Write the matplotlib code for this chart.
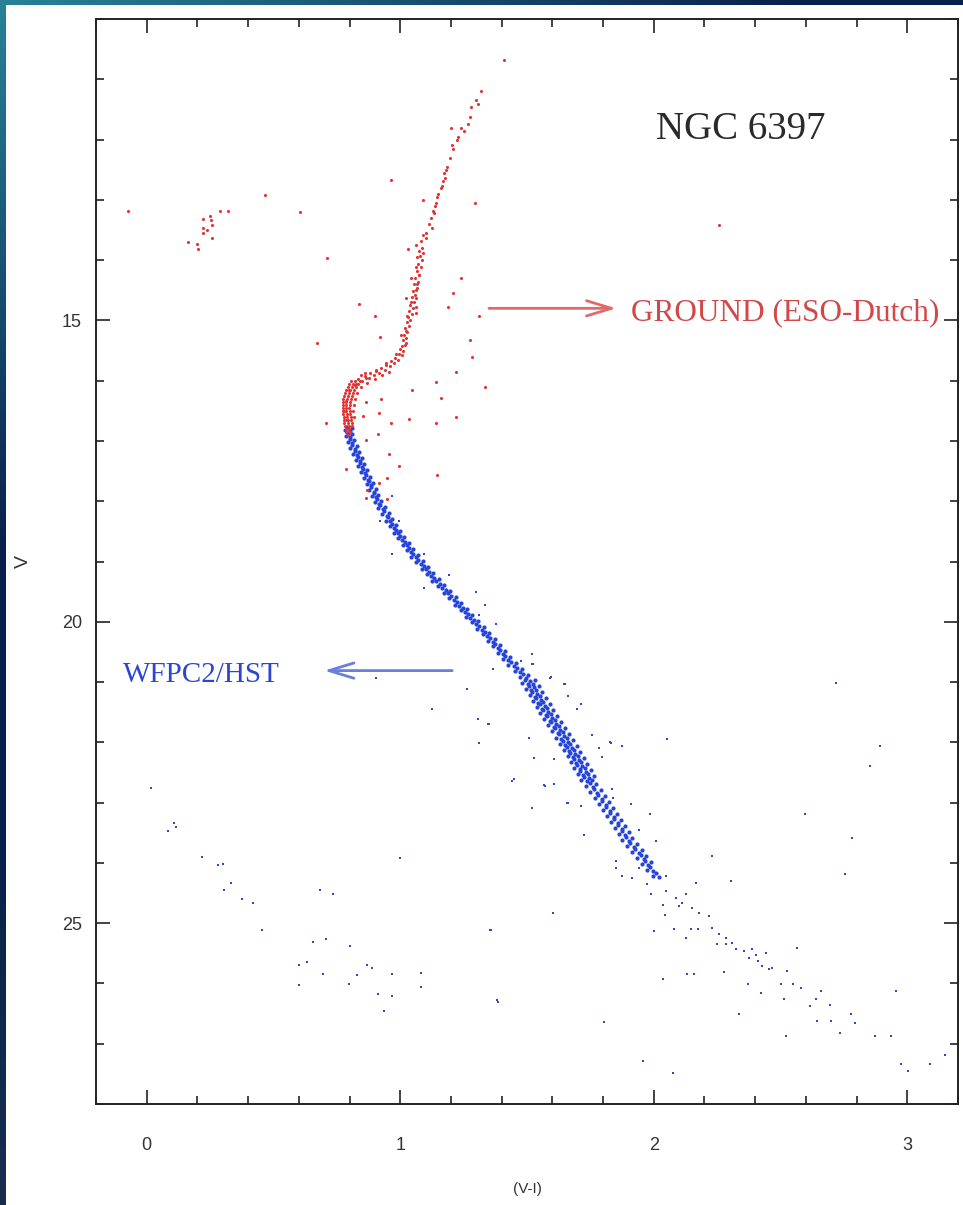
import numpy as np
import matplotlib
matplotlib.use("Agg")
import matplotlib.pyplot as plt
from matplotlib.ticker import MultipleLocator, FixedLocator
from matplotlib.patches import Rectangle

# ---------------- data (V-I, V) ----------------
# HST main sequence band
hst_band = [
 (0.783,16.82),(0.791,16.77),(0.800,16.84),(0.808,16.79),
 (0.786,16.91),(0.795,16.87),(0.803,16.94),(0.811,16.89),
 (0.793,17.02),(0.801,16.97),(0.810,17.04),(0.818,16.99),
 (0.803,17.12),(0.811,17.07),(0.820,17.13),(0.828,17.09),
 (0.814,17.21),(0.822,17.17),(0.831,17.24),(0.839,17.19),
 (0.824,17.32),(0.832,17.27),(0.841,17.33),(0.849,17.29),
 (0.834,17.41),(0.842,17.37),(0.851,17.44),(0.859,17.39),
 (0.845,17.52),(0.853,17.47),(0.862,17.53),(0.870,17.49),
 (0.856,17.61),(0.864,17.57),(0.873,17.64),(0.881,17.59),
 (0.867,17.72),(0.875,17.67),(0.884,17.73),(0.892,17.69),
 (0.878,17.81),(0.886,17.77),(0.895,17.84),(0.903,17.79),
 (0.889,17.92),(0.897,17.87),(0.906,17.93),(0.914,17.89),
 (0.900,18.01),(0.908,17.97),(0.917,18.04),(0.925,17.99),
 (0.914,18.12),(0.922,18.07),(0.931,18.13),(0.939,18.09),
 (0.929,18.21),(0.937,18.17),(0.946,18.24),(0.954,18.19),
 (0.944,18.32),(0.952,18.27),(0.961,18.33),(0.969,18.29),
 (0.959,18.41),(0.967,18.37),(0.976,18.44),(0.984,18.39),
 (0.974,18.52),(0.982,18.47),(0.991,18.53),(0.999,18.49),
 (0.991,18.61),(0.999,18.57),(1.008,18.64),(1.016,18.59),
 (1.009,18.72),(1.017,18.67),(1.026,18.73),(1.034,18.69),
 (1.026,18.81),(1.034,18.77),(1.043,18.84),(1.051,18.79),
 (1.044,18.92),(1.052,18.87),(1.061,18.93),(1.069,18.89),
 (1.063,19.01),(1.071,18.97),(1.080,19.04),(1.088,18.99),
 (1.084,19.12),(1.092,19.07),(1.101,19.13),(1.109,19.09),
 (1.105,19.21),(1.113,19.17),(1.122,19.24),(1.130,19.19),
 (1.126,19.32),(1.134,19.27),(1.143,19.33),(1.151,19.29),
 (1.148,19.41),(1.156,19.37),(1.165,19.44),(1.173,19.39),
 (1.171,19.52),(1.179,19.47),(1.188,19.53),(1.196,19.49),
 (1.194,19.61),(1.202,19.57),(1.211,19.64),(1.219,19.59),
 (1.216,19.72),(1.224,19.67),(1.233,19.73),(1.241,19.69),
 (1.239,19.81),(1.247,19.77),(1.256,19.84),(1.264,19.79),
 (1.260,19.92),(1.268,19.87),(1.277,19.93),(1.285,19.89),
 (1.282,20.01),(1.290,19.97),(1.299,20.04),(1.307,19.99),
 (1.304,20.12),(1.312,20.07),(1.321,20.13),(1.329,20.09),
 (1.327,20.21),(1.335,20.17),(1.344,20.24),(1.352,20.19),
 (1.347,20.32),(1.355,20.27),(1.364,20.33),(1.372,20.29),
 (1.367,20.41),(1.375,20.37),(1.384,20.44),(1.392,20.39),
 (1.385,20.52),(1.395,20.47),(1.405,20.53),(1.414,20.49),
 (1.405,20.61),(1.415,20.57),(1.425,20.64),(1.434,20.59),
 (1.427,20.72),(1.437,20.67),(1.447,20.73),(1.456,20.69),
 (1.451,20.81),(1.461,20.77),(1.471,20.84),(1.480,20.79),
 (1.473,20.92),(1.484,20.87),(1.495,20.93),(1.505,20.89),
 (1.481,21.02),(1.492,20.97),(1.502,21.04),(1.512,20.99),(1.522,21.03),(1.532,20.96),
 (1.495,21.12),(1.506,21.07),(1.516,21.14),(1.526,21.09),(1.536,21.13),(1.546,21.06),
 (1.510,21.22),(1.521,21.17),(1.531,21.24),(1.541,21.19),(1.551,21.23),(1.561,21.16),
 (1.524,21.32),(1.535,21.27),(1.545,21.34),(1.555,21.29),(1.565,21.33),(1.575,21.26),
 (1.539,21.42),(1.550,21.37),(1.560,21.44),(1.570,21.39),(1.580,21.43),(1.590,21.36),
 (1.553,21.52),(1.564,21.47),(1.574,21.54),(1.584,21.49),(1.594,21.53),(1.604,21.46),
 (1.569,21.62),(1.580,21.57),(1.590,21.64),(1.600,21.59),(1.610,21.63),(1.620,21.56),
 (1.584,21.72),(1.595,21.67),(1.605,21.74),(1.615,21.69),(1.625,21.73),(1.635,21.66),
 (1.600,21.82),(1.611,21.77),(1.621,21.84),(1.631,21.79),(1.641,21.83),(1.651,21.76),
 (1.615,21.92),(1.626,21.87),(1.636,21.94),(1.646,21.89),(1.656,21.93),(1.666,21.86),
 (1.630,22.02),(1.641,21.97),(1.651,22.04),(1.661,21.99),(1.671,22.03),(1.681,21.96),
 (1.646,22.12),(1.657,22.07),(1.667,22.14),(1.677,22.09),(1.687,22.13),(1.697,22.06),
 (1.660,22.22),(1.671,22.17),(1.681,22.24),(1.691,22.19),(1.701,22.23),(1.711,22.16),
 (1.673,22.32),(1.684,22.27),(1.694,22.34),(1.704,22.29),(1.714,22.33),(1.724,22.26),
 (1.687,22.42),(1.698,22.37),(1.708,22.44),(1.718,22.39),(1.728,22.43),(1.738,22.36),
 (1.700,22.52),(1.711,22.47),(1.721,22.54),(1.731,22.49),(1.741,22.53),(1.751,22.46),
 (1.714,22.62),(1.725,22.57),(1.735,22.64),(1.745,22.59),(1.755,22.63),(1.765,22.56),
 (1.734,22.72),(1.747,22.67),(1.761,22.74),(1.774,22.69),
 (1.750,22.82),(1.763,22.77),(1.777,22.84),(1.790,22.79),
 (1.767,22.92),(1.780,22.87),(1.794,22.94),(1.807,22.89),
 (1.784,23.02),(1.797,22.97),(1.811,23.04),(1.824,22.99),
 (1.800,23.12),(1.813,23.07),(1.827,23.14),(1.840,23.09),
 (1.816,23.22),(1.829,23.17),(1.843,23.24),(1.856,23.19),
 (1.831,23.32),(1.844,23.27),(1.858,23.34),(1.871,23.29),
 (1.846,23.42),(1.859,23.37),(1.873,23.44),(1.886,23.39),
 (1.861,23.52),(1.874,23.47),(1.888,23.54),(1.901,23.49),
 (1.876,23.62),(1.889,23.57),(1.903,23.64),(1.916,23.59),
 (1.894,23.72),(1.907,23.67),(1.921,23.74),(1.934,23.69),
 (1.913,23.82),(1.926,23.77),(1.940,23.84),(1.953,23.79),
 (1.935,23.92),(1.948,23.87),(1.960,23.94),(1.970,23.89),
 (1.954,24.02),(1.967,23.97),(1.979,24.04),(1.989,23.99),
 (1.975,24.12),(1.987,24.07),(1.998,24.14),
 (1.996,24.21),(2.008,24.17),(2.020,24.24),
]
hst_band_vi = [p[0] for p in hst_band]
hst_band_v = [p[1] for p in hst_band]

# HST sparse stars (faint tail, field stars, outliers)
hst_field = [
 (2.047,24.47),(2.087,24.58),(2.110,24.67),(2.126,24.52),(2.150,24.75),(2.177,24.83),
 (2.098,24.72),(2.228,25.08),(2.217,24.88),(2.256,25.18),(2.283,25.35),(2.307,25.33),
 (2.323,25.43),(2.354,25.47),(2.386,25.43),(2.374,25.58),(2.413,25.63),(2.425,25.71),
 (2.465,25.75),(2.402,25.52),(2.283,25.25),(2.248,25.35),
 (1.850,23.97),(1.850,24.09),(1.874,24.22),(1.913,24.25),(1.972,24.35),(1.941,24.09),
 (1.969,23.97),(2.047,24.22),(1.988,24.52),(2.079,25.10),(2.146,25.10),(2.173,25.10),
 (2.228,23.89),(2.303,24.30),(2.165,24.34),(2.035,24.70),(2.043,24.87),(1.602,24.83),
 (1.358,25.12),(2.000,25.13),(2.126,25.25),(2.130,25.85),(2.157,25.85),(2.035,25.93),
 (2.276,25.81),(2.335,26.50),(2.370,26.01),(2.421,26.16),(2.441,25.50),(2.453,25.76),
 (2.500,26.01),(2.512,26.25),(2.524,25.80),(2.551,26.01),(2.563,25.42),(2.579,26.08),
 (2.618,26.38),(2.638,26.25),(2.642,26.63),(2.661,26.13),(2.697,26.35),(2.701,26.63),
 (2.736,26.83),(2.776,26.51),(2.795,26.66),(2.520,26.88),(2.874,26.88),(2.937,26.88),
 (2.957,26.13),(2.976,27.33),(3.004,27.46),(3.091,27.33),(3.150,27.18),
 (2.717,21.01),(2.894,22.06),(2.854,22.39),(2.598,23.19),(2.780,23.59),(2.756,24.19),
 (2.051,21.94),(1.382,26.28),(1.803,26.64),(1.957,27.28),(2.075,27.48),
 (1.378,20.03),(1.366,20.78),(1.520,20.53),(1.520,20.70),(1.591,20.93),(1.650,21.03),
 (1.508,21.93),(1.528,22.26),(1.441,22.64),(1.567,22.71),(1.606,22.69),(1.520,23.09),
 (1.657,23.01),(1.724,23.54),(1.350,21.69),(1.311,22.01),(1.874,22.06),(1.831,22.01),
 (1.795,22.24),(1.909,23.02),(1.984,23.19),(1.941,23.46),(2.008,23.64),
 (0.969,17.91),(0.996,18.32),(0.921,18.32),(0.969,18.87),(1.094,18.87),(1.094,19.44),
 (1.193,19.22),(1.299,19.50),(1.335,19.72),(1.311,19.88),(1.524,20.70),(1.476,20.65),
 (0.906,20.93),(1.126,21.45),(1.449,22.61),(1.264,21.11),(1.307,21.61),
 (1.594,20.91),(1.646,21.03),(1.661,21.23),(1.713,21.36),(1.697,21.45),(1.756,21.88),
 (1.783,22.09),(1.827,21.99),(1.606,22.28),(1.571,22.72),(1.661,23.01),(1.713,23.06),
 (1.835,22.77),(1.839,22.92),
 (0.016,22.76),(0.083,23.47),(0.106,23.34),(0.114,23.41),(0.217,23.90),(0.280,24.04),
 (0.299,24.02),(0.331,24.34),(0.303,24.45),(0.374,24.60),(0.421,24.67),(0.453,25.12),
 (0.657,25.32),(0.634,25.65),(0.602,25.70),(0.602,26.03),(0.685,24.45),(0.736,24.52),
 (0.709,25.27),(0.697,25.85),(0.803,25.38),(0.799,26.01),(0.831,25.86),(0.870,25.70),
 (0.890,25.75),(0.913,26.18),(0.937,26.46),(0.969,25.85),(0.969,26.21),(1.083,25.83),
 (1.083,26.06),(1.000,23.92),(1.354,25.12),(1.386,26.30),(1.346,21.69),
]
hst_field_vi = [p[0] for p in hst_field]
hst_field_v = [p[1] for p in hst_field]

# Ground-based (ESO-Dutch) stars: turnoff, subgiant branch, giant branch, HB, field
ground = [
 (0.805,16.00),(0.822,16.00),(0.840,16.00),(0.798,16.05),(0.815,16.05),(0.833,16.05),
 (0.792,16.10),(0.808,16.10),(0.826,16.10),(0.845,16.10),(0.786,16.15),(0.801,16.15),
 (0.818,16.15),(0.782,16.20),(0.797,16.20),(0.812,16.20),(0.830,16.20),(0.779,16.25),
 (0.793,16.25),(0.808,16.25),(0.776,16.30),(0.790,16.30),(0.805,16.30),(0.822,16.30),
 (0.775,16.35),(0.788,16.35),(0.802,16.35),(0.774,16.40),(0.787,16.40),(0.800,16.40),
 (0.816,16.40),(0.774,16.45),(0.786,16.45),(0.799,16.45),(0.775,16.50),(0.787,16.50),
 (0.800,16.50),(0.815,16.50),(0.776,16.55),(0.789,16.55),(0.802,16.55),(0.777,16.60),
 (0.790,16.60),(0.804,16.60),(0.818,16.60),(0.779,16.65),(0.792,16.65),(0.806,16.65),
 (0.780,16.70),(0.794,16.70),(0.808,16.70),(0.782,16.75),(0.796,16.75),(0.810,16.75),
 (0.785,16.80),(0.799,16.80),(0.788,16.85),(0.802,16.85),(0.792,16.90),
 (0.835,15.98),(0.850,16.00),(0.860,15.93),(0.875,15.96),(0.880,15.88),(0.895,15.90),
 (0.905,15.84),(0.915,15.87),(0.925,15.79),(0.940,15.82),(0.945,15.74),(0.960,15.76),
 (0.965,15.68),(0.975,15.71),(0.980,15.62),(0.990,15.65),(0.995,15.56),(1.005,15.58),
 (1.000,15.48),(1.012,15.50),(0.870,16.04),(0.900,15.97),(0.930,15.91),(0.955,15.85),
 (0.820,16.08),(0.860,15.87),(0.845,15.91),
 (1.005,15.42),(1.018,15.40),(1.010,15.33),(1.022,15.30),(1.015,15.24),(1.028,15.20),
 (1.020,15.13),(1.033,15.10),(1.025,15.03),(1.040,15.00),(1.030,14.95),(1.045,14.90),
 (1.035,14.84),(1.050,14.80),(1.040,14.74),(1.055,14.70),(1.048,14.62),(1.060,14.58),
 (1.050,14.52),(1.065,14.47),(1.055,14.40),(1.070,14.36),(1.060,14.30),(1.075,14.25),
 (1.065,14.18),(1.080,14.12),(1.070,14.06),(1.085,14.00),(1.078,13.93),(1.090,13.88),
 (1.100,13.55),(1.115,13.40),(1.120,13.30),(1.130,13.18),(1.140,13.05),(1.150,12.90),
 (1.160,12.80),(1.170,12.68),(1.180,12.50),(1.195,12.30),(1.210,12.15),(1.225,12.00),
 (1.250,11.85),(1.275,11.62),(1.300,11.35),(1.320,11.20),
 (1.409,10.68),(1.280,11.46),(1.307,11.41),(1.268,11.74),(1.240,11.81),(1.201,11.81),
 (1.228,11.96),(1.205,12.09),(1.185,12.46),(1.173,12.56),(1.177,12.64),(1.165,12.77),
 (1.146,12.96),(1.138,13.11),(1.134,13.22),(1.126,13.46),(1.091,13.59),(1.102,13.64),
 (1.083,13.69),(1.063,13.75),(1.087,13.80),(1.075,13.85),(1.031,13.82),(1.067,13.95),
 (1.063,14.12),(1.075,14.25),(1.043,14.30),(1.067,14.39),(1.063,14.50),(1.024,14.63),
 (1.063,14.63),(1.043,14.70),(1.063,14.78),
 (1.209,14.55),(1.240,14.29),(1.295,13.06),(1.091,13.01),(0.965,12.67),(0.606,13.21),
 (0.713,13.97),(0.839,14.73),(1.189,14.78),
 (0.902,14.92),(1.028,14.92),(1.063,14.87),(1.311,14.92),(1.024,15.17),(1.004,15.25),
 (1.024,15.38),(0.984,15.55),(0.945,15.71),(0.906,15.83),(0.866,15.95),(0.827,16.05),
 (0.799,16.16),(0.787,16.33),(0.780,16.50),(0.787,16.66),(0.799,16.83),
 (0.673,15.38),(0.921,15.28),(1.276,15.33),(1.283,15.61),(1.220,15.86),(1.142,16.03),
 (1.335,16.10),(1.047,16.15),(1.161,16.28),(0.925,16.31),(0.866,16.36),(0.917,16.53),
 (1.035,16.64),(1.220,16.61),(1.142,16.71),(0.709,16.71),(0.854,16.59),(0.965,16.71),
 (0.913,16.88),(0.866,16.99),(0.957,17.21),(0.996,17.41),(0.787,17.46),(1.146,17.57),
 (0.949,17.61),(0.917,17.69),(0.870,17.82),(0.866,17.94),(0.949,17.96),
 (-0.075,13.19),(0.161,13.70),(0.197,13.74),(0.201,13.82),(0.224,13.32),(0.224,13.47),
 (0.236,13.50),(0.224,13.55),(0.248,13.26),(0.252,13.34),(0.256,13.42),(0.256,13.64),
 (0.291,13.19),(0.319,13.19),(0.465,12.92),(2.256,13.42),
]
ground_vi = [p[0] for p in ground]
ground_v = [p[1] for p in ground]

x_major = [0, 1, 2, 3]
y_major = [15, 20, 25]

# ---------------- figure ----------------
W, H = 963, 1205
fig = plt.figure(figsize=(W / 100, H / 100), dpi=100)

# slide background gradient
bg = fig.add_axes([0, 0, 1, 1], zorder=-10)
uu, vv = np.meshgrid(np.linspace(0, 1, 200), np.linspace(0, 1, 250))
teal = np.array([40, 130, 150]) / 255.0
navy = np.array([8, 32, 75]) / 255.0
t = np.clip(uu * 1.2 + vv * 2.2, 0, 1)[..., None]
img = teal * (1 - t) + navy * t
low = np.clip((vv - 0.7) / 0.3, 0, 1)[..., None] * 0.35
img = img * (1 - low) + np.array([55, 70, 85]) / 255.0 * low
bg.imshow(img, aspect="auto", extent=[0, 1, 0, 1], origin="upper")
bg.set_axis_off()
bg.set_xlim(0, 1)
bg.set_ylim(0, 1)
fig.patches.append(Rectangle((6 / W, 0), 1 - 6 / W, 1 - 5 / H, transform=fig.transFigure,
                             facecolor="white", edgecolor="none", zorder=-5))

ax = fig.add_axes([96 / W, 1 - 1104 / H, (958 - 96) / W, (1104 - 19) / H])
ax.set_facecolor("white")
ax.set_xlim(-0.2, 3.2)
ax.set_ylim(28, 10)

blue = "#2444dc"
red = "#e23434"
ax.scatter(hst_band_vi, hst_band_v, s=9, c=blue, marker="o", linewidths=0)
ax.scatter(hst_field_vi, hst_field_v, s=3.5, c="#3048c8", marker="s", linewidths=0)
ax.scatter(ground_vi, ground_v, s=5, c=red, marker="o", linewidths=0)

# ticks
ax.xaxis.set_major_locator(FixedLocator(x_major))
ax.xaxis.set_minor_locator(MultipleLocator(0.2))
ax.yaxis.set_major_locator(FixedLocator(y_major))
ax.yaxis.set_minor_locator(MultipleLocator(1))
ax.tick_params(which="both", direction="in", top=True, right=True, width=1.2, color="#222222")
ax.tick_params(which="major", length=10)
ax.tick_params(which="minor", length=5.5)
ax.tick_params(axis="x", which="major", pad=24, labelsize=13, labelcolor="#333333")
ax.tick_params(axis="y", which="major", pad=10, labelsize=13, labelcolor="#333333")
for lab in ax.get_xticklabels() + ax.get_yticklabels():
    lab.set_family("Liberation Sans")
for sp in ax.spines.values():
    sp.set_linewidth(1.4)
    sp.set_color("#222222")

ax.set_xlabel("(V-I)", family="Liberation Sans", fontsize=11, color="#333333", labelpad=20)
ax.set_ylabel("V", family="Liberation Sans", fontsize=14, color="#333333", labelpad=22)

# annotations
ax.text(2.008, 11.84, "NGC 6397", family="Liberation Serif", fontsize=28,
        color="#2a2a2a", va="center", ha="left")
ax.text(1.909, 14.875, "GROUND (ESO-Dutch)", family="Liberation Serif", fontsize=22.5,
        color="#d24848", va="center", ha="left")
ax.text(-0.094, 20.88, "WFPC2/HST", family="Liberation Serif", fontsize=21,
        color="#2a45d6", va="center", ha="left")
ax.annotate("", xy=(1.852, 14.80), xytext=(1.35, 14.80),
            arrowprops=dict(arrowstyle="->,head_length=1.8,head_width=0.55",
                            color="#e06a6a", lw=2, shrinkA=0, shrinkB=0))
ax.annotate("", xy=(0.70, 20.81), xytext=(1.205, 20.81),
            arrowprops=dict(arrowstyle="->,head_length=1.8,head_width=0.55",
                            color="#6a7ee0", lw=2, shrinkA=0, shrinkB=0))

fig.savefig("out.png", dpi=100)
